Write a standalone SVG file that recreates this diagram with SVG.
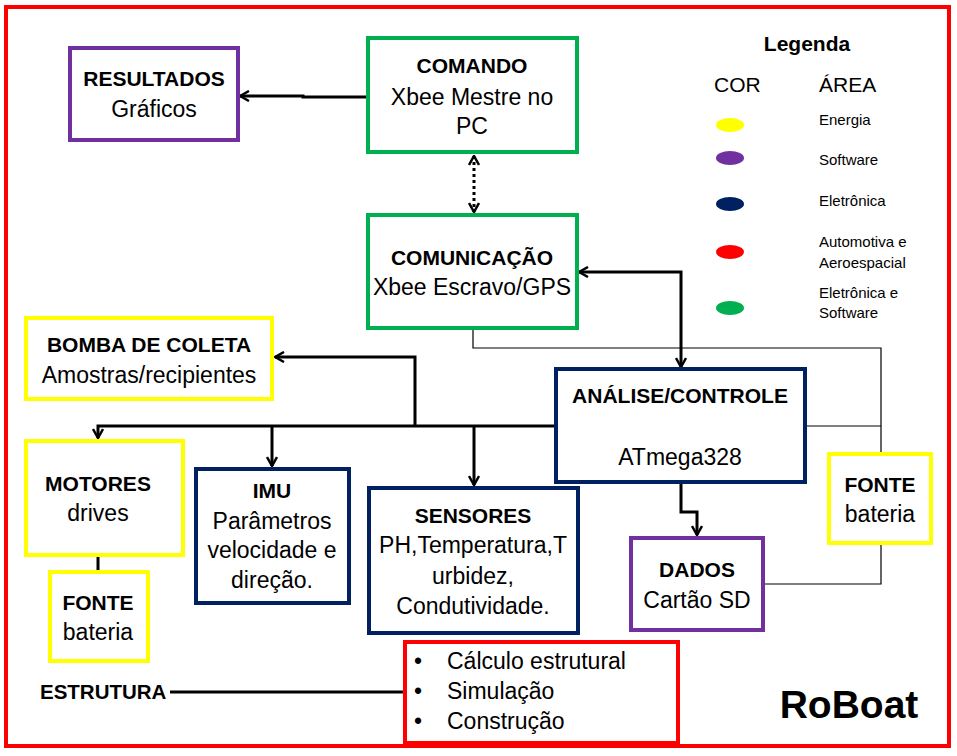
<svg xmlns="http://www.w3.org/2000/svg" width="957" height="756" viewBox="0 0 957 756">
<defs>
<marker id="arr" viewBox="0 0 12 12" refX="11" refY="6" markerWidth="12" markerHeight="12" markerUnits="userSpaceOnUse" orient="auto-start-reverse">
<polyline points="2,1 11,6 2,11" fill="none" stroke="#000" stroke-width="2.5"/>
</marker>
</defs>
<style>
text{font-family:"Liberation Sans",Arial,sans-serif;fill:#000}
.t{font-size:21px;font-weight:bold;text-anchor:middle}
.b{font-size:23px;text-anchor:middle}
.box{fill:#fff;stroke-width:4}
.g{stroke:#00B050}.p{stroke:#7030A0}.n{stroke:#002060}.y{stroke:#FFFF00}.r{stroke:#FF0000}
.c{fill:none;stroke:#000;stroke-width:3}
.thin{fill:none;stroke:#000;stroke-width:1.2}
.lg{font-size:15px}
.li{font-size:23px}
</style>
<rect x="6" y="7" width="943" height="739" fill="#fff" stroke="#FF0000" stroke-width="4"/>
<g id="connectors">
<path class="c" d="M368,97 H303 V96 H240" marker-end="url(#arr)"/>
<path class="c" d="M474,156 V212" stroke-dasharray="3,3" marker-start="url(#arr)" marker-end="url(#arr)"/>
<path class="c" d="M681,367 V272 H579" marker-start="url(#arr)" marker-end="url(#arr)"/>
<path class="thin" d="M473,330 V348 H881 V453"/>
<path class="thin" d="M806,426 H881"/>
<path class="thin" d="M881,545 V584 H765"/>
<path class="c" d="M681,484 V512 H697 V535" marker-end="url(#arr)"/>
<path class="c" d="M556,426 H98 V438" marker-end="url(#arr)"/>
<path class="c" d="M415,426 V357 H275" marker-end="url(#arr)"/>
<path class="c" d="M272,426 V466" marker-end="url(#arr)"/>
<path class="c" d="M474,426 V485" marker-end="url(#arr)"/>
<path class="c" d="M98,556 V570"/>
<path class="c" d="M170,692 H404"/>
</g>
<g id="resultados">
<rect class="box p" x="70" y="48" width="168" height="92"/>
<text class="t" x="154" y="86">RESULTADOS</text>
<text class="b" x="154" y="117">Gráficos</text>
</g>
<g id="comando">
<rect class="box g" x="368" y="38" width="209" height="114"/>
<text class="t" x="472" y="73">COMANDO</text>
<text class="b" x="472" y="105">Xbee Mestre no</text>
<text class="b" x="472" y="134">PC</text>
</g>
<g id="comunicacao">
<rect class="box g" x="368" y="215" width="209" height="113"/>
<text class="t" x="472" y="265">COMUNICAÇÃO</text>
<text class="b" x="472" y="295">Xbee Escravo/GPS</text>
</g>
<g id="bomba">
<rect class="box y" x="26" y="318" width="246" height="81"/>
<text class="t" x="149" y="352">BOMBA DE COLETA</text>
<text class="b" x="149" y="383">Amostras/recipientes</text>
</g>
<g id="analise">
<rect class="box n" x="556" y="369" width="249" height="113"/>
<text class="t" x="680" y="403">ANÁLISE/CONTROLE</text>
<text class="b" x="680" y="465">ATmega328</text>
</g>
<g id="motores">
<rect class="box y" x="26" y="441" width="157" height="114"/>
<text class="t" x="98" y="491">MOTORES</text>
<text class="b" x="98" y="521">drives</text>
</g>
<g id="fonte1">
<rect class="box y" x="50" y="572" width="98" height="89"/>
<text class="t" x="98" y="610">FONTE</text>
<text class="b" x="98" y="640">bateria</text>
</g>
<g id="imu">
<rect class="box n" x="196" y="469" width="153" height="134"/>
<text class="t" x="272" y="498">IMU</text>
<text class="b" x="272" y="529">Parâmetros</text>
<text class="b" x="272" y="558">velocidade e</text>
<text class="b" x="272" y="588">direção.</text>
</g>
<g id="sensores">
<rect class="box n" x="369" y="488" width="209" height="145"/>
<text class="t" x="473" y="523">SENSORES</text>
<text class="b" x="473" y="553">PH,Temperatura,T</text>
<text class="b" x="473" y="584">urbidez,</text>
<text class="b" x="473" y="614">Condutividade.</text>
</g>
<g id="dados">
<rect class="box p" x="631" y="538" width="132" height="92"/>
<text class="t" x="697" y="577">DADOS</text>
<text class="b" x="697" y="608">Cartão SD</text>
</g>
<g id="fonte2">
<rect class="box y" x="829" y="454" width="102" height="89"/>
<text class="t" x="880" y="492">FONTE</text>
<text class="b" x="880" y="522">bateria</text>
</g>
<g id="estrutura">
<text x="40" y="699" style="font-size:20.5px;font-weight:bold">ESTRUTURA</text>
</g>
<g id="estrutura-itens">
<rect class="box r" x="405" y="642" width="273" height="101"/>
<text class="li" x="414" y="669">•</text>
<text class="li" x="447" y="669">Cálculo estrutural</text>
<text class="li" x="414" y="699">•</text>
<text class="li" x="447" y="699">Simulação</text>
<text class="li" x="414" y="729">•</text>
<text class="li" x="447" y="729">Construção</text>
</g>
<g id="roboat">
<text x="849" y="718" style="font-size:39px;font-weight:bold;text-anchor:middle">RoBoat</text>
</g>
<g id="legenda">
<text x="807" y="51" style="font-size:21px;font-weight:bold;text-anchor:middle">Legenda</text>
<text x="714" y="92" style="font-size:21px">COR</text>
<text x="819" y="92" style="font-size:21px">ÁREA</text>
<ellipse cx="730" cy="125" rx="14" ry="7" fill="#FFFF00"/>
<ellipse cx="730" cy="158" rx="14" ry="7" fill="#7030A0"/>
<ellipse cx="730" cy="204" rx="14" ry="7" fill="#002060"/>
<ellipse cx="730" cy="252" rx="14" ry="7" fill="#FF0000"/>
<ellipse cx="730" cy="308" rx="14" ry="7" fill="#00B050"/>
<text class="lg" x="819" y="125">Energia</text>
<text class="lg" x="819" y="165">Software</text>
<text class="lg" x="819" y="206">Eletrônica</text>
<text class="lg" x="819" y="247">Automotiva e</text>
<text class="lg" x="819" y="268">Aeroespacial</text>
<text class="lg" x="819" y="298">Eletrônica e</text>
<text class="lg" x="819" y="318">Software</text>
</g>
</svg>
